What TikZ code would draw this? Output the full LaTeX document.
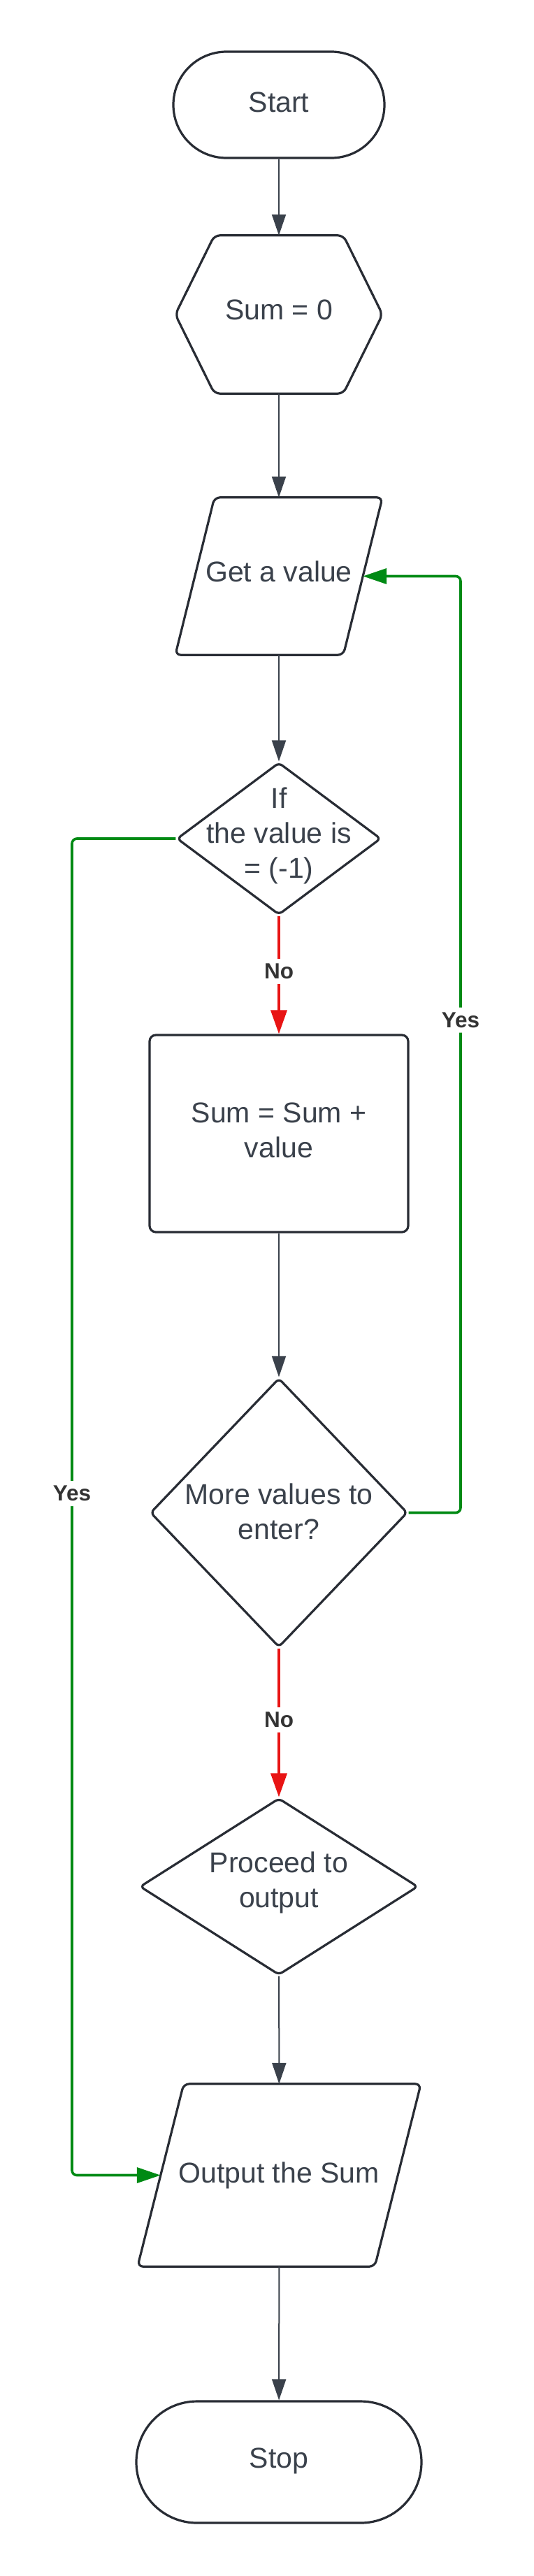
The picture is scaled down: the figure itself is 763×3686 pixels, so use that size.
\documentclass[tikz,border=0pt]{standalone}
\usepackage{fontspec}
\setmainfont{Liberation Sans}
\usetikzlibrary{arrows.meta,shapes.geometric,shapes.misc}
\definecolor{txtc}{RGB}{58,65,75}
\definecolor{bord}{RGB}{40,44,52}
\definecolor{conn}{RGB}{58,65,75}
\definecolor{gr}{RGB}{0,138,20}
\definecolor{rd}{RGB}{232,20,20}
\definecolor{lblc}{RGB}{51,51,51}
\begin{document}
\begin{tikzpicture}[x=1pt,y=-1pt,
 shp/.style={draw=bord, line width=3.2pt, fill=white, inner sep=0pt},
 term/.style={shp, rounded rectangle},
 proc/.style={shp, rectangle, rounded corners=9pt},
 dec/.style={shp, diamond, rounded corners=6pt},
 box/.style={rectangle, inner sep=0pt},
 txt/.style={text=txtc, font=\fontsize{41}{50}\selectfont, align=center, inner sep=0pt},
 arr/.style={draw=conn, line width=2pt, -{Triangle[length=30pt,width=20pt]}},
 noarr/.style={draw=rd, line width=3.6pt, -{Triangle[length=34pt,width=23pt]}},
 yesarr/.style={draw=gr, line width=3.6pt, rounded corners=7pt, -{Triangle[length=34pt,width=22pt]}},
 lab/.style={text=lblc, font=\fontsize{31.5}{38}\selectfont\bfseries, fill=white, inner sep=7pt}
]
\useasboundingbox[fill=white] (0,0) rectangle (763,3686);
% shapes
\node[term, minimum width=302pt, minimum height=152pt] (start) at (399,150) {};
\node[box, minimum width=296pt, minimum height=226pt] (sum0) at (399,450) {};
\draw[shp, rounded corners=8pt] ([xshift=56pt]sum0.north west) -- ([xshift=-56pt]sum0.north east) -- (sum0.east) -- ([xshift=-56pt]sum0.south east) -- ([xshift=56pt]sum0.south west) -- (sum0.west) -- cycle;
\node[box, minimum width=296pt, minimum height=225pt] (get) at (399,824.5) {};
\draw[shp, rounded corners=8pt] ([xshift=56pt]get.north west) -- (get.north east) -- ([xshift=-56pt]get.south east) -- (get.south west) -- cycle;
\coordinate (gete) at ([xshift=-28pt]get.east);
\node[dec, minimum width=292pt, minimum height=218pt] (d1) at (399,1200) {};
\node[proc, minimum width=370pt, minimum height=282pt] (calc) at (399,1622) {};
\node[dec, minimum width=368pt, minimum height=385pt] (d2) at (399,2164.5) {};
\node[dec, minimum width=398pt, minimum height=253pt] (d3) at (399,2699.5) {};
\node[box, minimum width=405pt, minimum height=261pt] (out) at (399.5,3112.5) {};
\draw[shp, rounded corners=8pt] ([xshift=66pt]out.north west) -- (out.north east) -- ([xshift=-66pt]out.south east) -- (out.south west) -- cycle;
\coordinate (outw) at ([xshift=33pt]out.west);
\node[term, minimum width=408pt, minimum height=174pt] (stop) at (399,3523) {};
% texts
\node[txt, anchor=base] (startt) at (399,160) {Start};
\node[txt, anchor=base] (sum0t) at (399,457) {Sum = 0};
\node[txt, anchor=base] (gett) at (399,832) {Get a value};
\node[txt] (d1t) at (399,1195.5) {If\\the value is\\= (-1)};
\node[txt] (calct) at (399,1617) {Sum = Sum +\\value};
\node[txt] (d2t) at (399,2163) {More values to\\enter?};
\node[txt] (d3t) at (399,2693.5) {Proceed to\\output};
\node[txt, anchor=base] (outt) at (399,3123) {Output the Sum};
\node[txt, anchor=base] (stopt) at (399,3531) {Stop};
% connectors
\coordinate (lx) at (103,0);
\coordinate (rx) at (659,0);
\draw[arr] (start) -- (sum0);
\draw[arr] (sum0) -- (get);
\draw[arr] (get) -- (d1);
\draw[noarr] (d1) -- node[lab, pos=0.47] (no1) {No} (calc);
\draw[arr] (calc) -- (d2);
\draw[noarr] (d2) -- node[lab, pos=0.48] (no2) {No} (d3);
\draw[arr] (d3) -- (out);
\draw[arr] (out) -- (stop);
\draw[yesarr] (d1.west) -| node[lab, pos=0.745] (yes1) {Yes} (lx |- outw) -- (outw);
\draw[yesarr] (d2.east) -| node[lab, pos=0.763] (yes2) {Yes} (rx |- gete) -- (gete);
\end{tikzpicture}
\end{document}
